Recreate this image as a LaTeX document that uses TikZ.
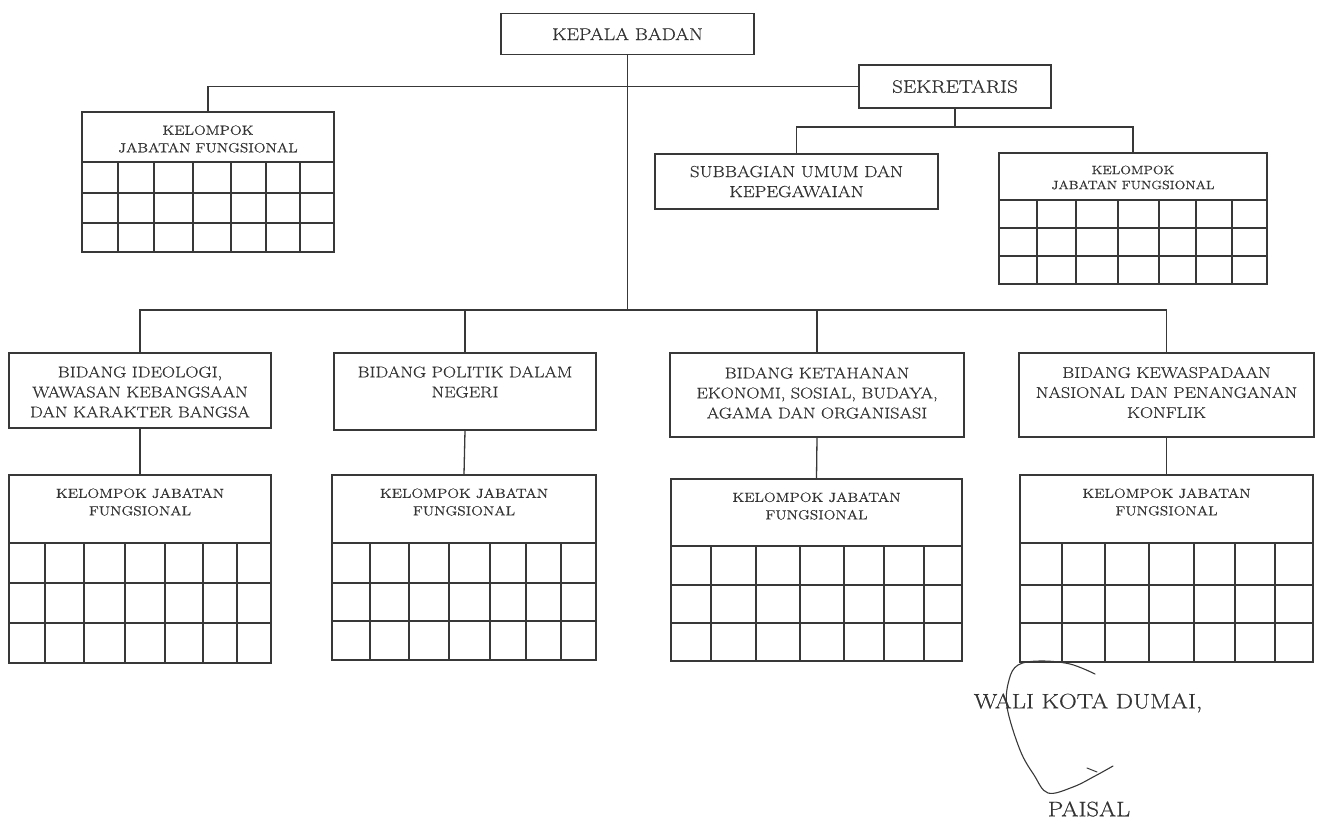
\documentclass[tikz,border=0pt]{standalone}
\usepackage{fontspec}
\setmainfont{Latin Modern Roman}[FakeStretch=1.17, FakeBold=0.6]
\usetikzlibrary{calc}
\definecolor{ln}{gray}{0.22}
\definecolor{tx}{gray}{0.2}
\begin{document}
\begin{tikzpicture}[x=1pt,y=-1pt,
  box/.style={draw=ln, line width=1.2pt, inner sep=0pt},
  conn/.style={draw=ln, line width=1.3pt},
  gridl/.style={draw=ln, line width=1.1pt},
  txt/.style={text=tx, align=center, inner sep=0pt},
  fbig/.style={font=\fontsize{17}{21}\selectfont},
  fsek/.style={font=\fontsize{18}{21}\selectfont},
  fmid/.style={font=\fontsize{15.5}{20}\selectfont},
  fsub/.style={font=\fontsize{16}{20}\selectfont},
  fkjf/.style={font=\fontsize{13.2}{17.5}\selectfont},
  fsmall/.style={font=\fontsize{13.2}{17.5}\selectfont},
  fsmr/.style={font=\fontsize{12}{15}\selectfont},
  fsig/.style={font=\fontsize{21}{25}\selectfont}]
\useasboundingbox (0,0) rectangle (1317,819);

% ---------- top boxes ----------
\node[box, minimum width=253pt, minimum height=41pt] (kb) at (627.5,34) {};
\node[txt, fbig] (kbt) at (kb.center) {KEPALA BADAN};
\node[box, minimum width=192pt, minimum height=43pt] (sek) at (955,86.5) {};
\node[txt, fsek] (sekt) at (sek.center) {SEKRETARIS};
\node[box, minimum width=283pt, minimum height=55pt] (sub) at (796.5,181.5) {};
\node[txt, fsub] (subt) at (sub.center) {SUBBAGIAN UMUM DAN\\KEPEGAWAIAN};

% KJF top-left
\node[box, minimum width=252pt, minimum height=140pt] (kL) at (208,182) {};
\node[txt, fsmall] (kLt) at (208,139) {KELOMPOK\\JABATAN FUNGSIONAL};
\foreach \yy in {162,193,223} \draw[gridl] (kL.west |- 0,\yy) -- (kL.east |- 0,\yy);
\foreach \xx in {118,154,193,231,266,300} \draw[gridl] (\xx,162) -- (kL.south -| \xx,0);

% KJF top-right
\node[box, minimum width=268pt, minimum height=131pt] (kR) at (1133,218.5) {};
\node[txt, fsmr] (kRt) at (1133,177.5) {KELOMPOK\\JABATAN FUNGSIONAL};
\foreach \yy in {200,228,256} \draw[gridl] (kR.west |- 0,\yy) -- (kR.east |- 0,\yy);
\foreach \xx in {1037,1076,1118,1159,1196,1232} \draw[gridl] (\xx,200) -- (kR.south -| \xx,0);

% ---------- bidang boxes ----------
\node[box, minimum width=262pt, minimum height=75pt] (b1) at (140,390.5) {};
\node[txt, fmid] (b1t) at (140,392) {BIDANG IDEOLOGI,\\WAWASAN KEBANGSAAN\\DAN KARAKTER BANGSA};
\node[box, minimum width=262pt, minimum height=77pt] (b2) at (465,391.5) {};
\node[txt, fmid] (b2t) at (465,382) {BIDANG POLITIK DALAM\\NEGERI};
\node[box, minimum width=294pt, minimum height=84pt] (b3) at (817,395) {};
\node[txt, fmid] (b3t) at (817,393) {BIDANG KETAHANAN\\EKONOMI, SOSIAL, BUDAYA,\\AGAMA DAN ORGANISASI};
\node[box, minimum width=295pt, minimum height=84pt] (b4) at (1166.5,395) {};
\node[txt, fmid] (b4t) at (1166.5,392.5) {BIDANG KEWASPADAAN\\NASIONAL DAN PENANGANAN\\KONFLIK};

% ---------- lower KJF boxes ----------
\node[box, minimum width=262pt, minimum height=188pt] (k1) at (140,569) {};
\node[txt, fkjf] (k1t) at (140,502) {KELOMPOK JABATAN\\FUNGSIONAL};
\foreach \yy in {543,583,623} \draw[gridl] (k1.west |- 0,\yy) -- (k1.east |- 0,\yy);
\foreach \xx in {45,84,125,165,203,237} \draw[gridl] (\xx,543) -- (k1.south -| \xx,0);

\node[box, minimum width=264pt, minimum height=185pt] (k2) at (464,567.5) {};
\node[txt, fkjf] (k2t) at (464,502) {KELOMPOK JABATAN\\FUNGSIONAL};
\foreach \yy in {543,583,621} \draw[gridl] (k2.west |- 0,\yy) -- (k2.east |- 0,\yy);
\foreach \xx in {370,409,449,490,526,561} \draw[gridl] (\xx,543) -- (k2.south -| \xx,0);

\node[box, minimum width=291pt, minimum height=182pt] (k3) at (816.5,570) {};
\node[txt, fkjf] (k3t) at (816.5,506) {KELOMPOK JABATAN\\FUNGSIONAL};
\foreach \yy in {546,585,623} \draw[gridl] (k3.west |- 0,\yy) -- (k3.east |- 0,\yy);
\foreach \xx in {711,756,800,844,884,924} \draw[gridl] (\xx,546) -- (k3.south -| \xx,0);

\node[box, minimum width=293pt, minimum height=187pt] (k4) at (1166.5,568.5) {};
\node[txt, fkjf] (k4t) at (1166.5,502) {KELOMPOK JABATAN\\FUNGSIONAL};
\foreach \yy in {543,585,623} \draw[gridl] (k4.west |- 0,\yy) -- (k4.east |- 0,\yy);
\foreach \xx in {1062,1105,1149,1194,1235,1275} \draw[gridl] (\xx,543) -- (k4.south -| \xx,0);

% ---------- connectors ----------
\coordinate (mj) at (kb.south |- 0,310);
\draw[conn] (kb.south) -- (mj);
\draw[conn] (mj) -| (b1.north);
\draw[conn] (mj) -| (b2.north);
\draw[conn] (mj) -| (b3.north);
\draw[conn] (mj) -| (b4.north);
\draw[conn] (sek.west) -| (kL.north);
\coordinate (sj) at (sek.south |- 0,127);
\draw[conn] (sek.south) -- (sj);
\draw[conn] (sj) -| (sub.north);
\draw[conn] (sj) -| (kR.north);
\draw[conn] (b1.south) -- (k1.north);
\draw[conn] (b2.south) -- (k2.north);
\draw[conn] (b3.south) -- (k3.north);
\draw[conn] (b4.south) -- (k4.north);

% ---------- signature block ----------
\node[txt, fsig] (wali) at (1088,703) {WALI KOTA DUMAI,};
\node[txt, fsig] (paisal) at (1089,809) {PAISAL};
\draw[ln, line width=1.1pt, line cap=round] plot[smooth, tension=0.6] coordinates {(1095,674) (1070,664) (1040,661) (1018,665) (1009,680) (1007,707) (1020,750) (1034,775) (1048,793) (1073,787) (1095,776) (1113,766)};
\draw[ln, line width=1pt, line cap=round] (1087,768) -- (1097,772);
\end{tikzpicture}
\end{document}
